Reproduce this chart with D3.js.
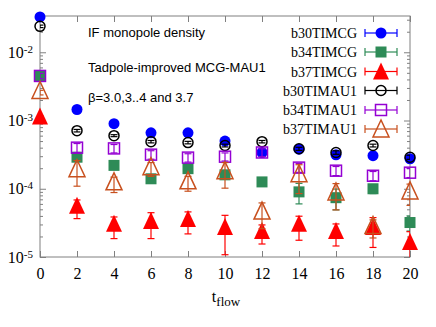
<!DOCTYPE html>
<html>
<head>
<meta charset="utf-8">
<script src="https://cdn.jsdelivr.net/npm/d3@7"></script>
<style>
  body { margin: 0; background: #fff; }
  text { fill: #000; }
</style>
</head>
<body>
<svg id="chart" width="436" height="327"></svg>
<script>
// flow time
const tflow = [0, 2, 4, 6, 8, 10, 12, 14, 16, 18, 20];

// series values
const b30TIMCG = [0.033, 1.45e-3, 9.0e-4, 6.6e-4, 6.6e-4, 5.0e-4, 3.4e-4, 3.8e-4, 3.15e-4, 3.05e-4, 2.75e-4];
const b34TIMCG = [4.5e-3, 2.9e-4, 2.2e-4, 1.4e-4, 1.97e-4, 1.6e-4, 1.26e-4, 9.0e-5, 7.4e-5, 1.0e-4, 3.2e-5];
const b37TIMCG = [1.07e-3, 5.25e-5, 2.86e-5, 3.16e-5, 3.38e-5, 2.58e-5, 2.25e-5, 2.86e-5, 2.25e-5, 2.58e-5, 1.55e-5];
const b30TIMAU1 = [0.024, 7.1e-4, 6.0e-4, 4.9e-4, 4.75e-4, 4.3e-4, 4.9e-4, 3.85e-4, 3.4e-4, 4.3e-4, 2.9e-4];
const b34TIMAU1 = [4.5e-3, 4.0e-4, 3.9e-4, 3.16e-4, 2.86e-4, 2.95e-4, 3.4e-4, 2.04e-4, 1.84e-4, 1.55e-4, 1.72e-4];
const b37TIMAU1 = [2.57e-3, 1.84e-4, 1.18e-4, 1.97e-4, 1.22e-4, 1.72e-4, 4.4e-5, 1.55e-4, 8.4e-5, 2.7e-5, 8.7e-5];

// errors
const errB30TIMCG = [1e-3, 4e-5, 3e-5, 2e-5, 2e-5, 2e-5, 1.5e-5, 1.5e-5, 1.5e-5, 1.5e-5, 1.5e-5];
const errB34TIMCG = [2e-4, 1.5e-5, 1.5e-5, 1.5e-5, 1.5e-5, 1.5e-5, 1e-5, 3e-5, 2.5e-5, 1.5e-5, 8e-6];
const errB37TIMCG = [1e-4, 1.6e-5, 1.0e-5, 1.3e-5, 1.2e-5, 1.5e-5, 7e-6, 1.1e-5, 8e-6, 1.2e-5, 8e-6];
const errB30TIMAU1 = [1e-3, 3e-5, 2e-5, 2e-5, 2e-5, 2e-5, 2e-5, 2e-5, 2e-5, 2e-5, 2e-5];
const errB34TIMAU1 = [4e-4, 6e-5, 5.5e-5, 4.5e-5, 4e-5, 4e-5, 4.5e-5, 3e-5, 2.8e-5, 2.4e-5, 2.6e-5];
const errB37TIMAU1 = [2e-4, 7.5e-5, 3e-5, 4.5e-5, 3e-5, 7e-5, 1.8e-5, 7e-5, 3.5e-5, 8e-6, 3e-5];

const seriesNames = ['b30TIMCG', 'b34TIMCG', 'b37TIMCG', 'b30TIMAU1', 'b34TIMAU1', 'b37TIMAU1'];
const seriesValues = [b30TIMCG, b34TIMCG, b37TIMCG, b30TIMAU1, b34TIMAU1, b37TIMAU1];
const seriesErrors = [errB30TIMCG, errB34TIMCG, errB37TIMCG, errB30TIMAU1, errB34TIMAU1, errB37TIMAU1];
const seriesColors = ['#0000ff', '#2e8b57', '#ff0000', '#000000', '#9400d3', '#c8501e'];
const seriesShapes = ['circleF', 'squareF', 'triF', 'circle', 'square', 'tri'];

const yMajors = [1e-2, 1e-3, 1e-4, 1e-5];

const annotations = ['IF monopole density', 'Tadpole-improved MCG-MAU1', 'β=3.0,3..4 and 3.7'];

const svg = d3.select('#chart');
const plotLeft = 40, plotRight = 410, plotTop = 16, plotBottom = 257;

const x = d3.scaleLinear().domain([0, 20]).range([plotLeft, plotRight]);
const y = d3.scaleLog().domain([1e-5, 0.034]).range([plotBottom, plotTop]);

const axisColor = '#808080';

const yMinors = [];
for (let e = -5; e <= -2; e++) {
  for (let m = 2; m <= 9; m++) {
    const v = m * Math.pow(10, e);
    if (v <= y.domain()[1]) yMinors.push(v);
  }
}

function styleAxis(g) {
  g.select('.domain').remove();
  g.selectAll('.tick line').attr('stroke', axisColor);
  g.selectAll('.tick text')
      .attr('font-family', '"Liberation Serif", "Times New Roman", serif')
      .attr('font-size', '16px')
      .attr('fill', '#000');
}

// x axes (bottom with labels, top mirrored)
svg.append('g')
    .attr('transform', `translate(0,${plotBottom})`)
    .call(d3.axisBottom(x).tickValues(tflow).tickSizeInner(-6).tickSizeOuter(0).tickPadding(11))
    .call(styleAxis);
svg.append('g')
    .attr('transform', `translate(0,${plotTop})`)
    .call(d3.axisTop(x).tickValues(tflow).tickSizeInner(-6).tickSizeOuter(0).tickFormat(''))
    .call(styleAxis);

// y axes
svg.append('g')
    .attr('transform', `translate(${plotLeft},0)`)
    .call(d3.axisLeft(y).tickValues(yMajors).tickSizeInner(-6).tickSizeOuter(0).tickPadding(7))
    .call(styleAxis)
    .call(g => g.selectAll('.tick text').text(null).each(function(d) {
        const t = d3.select(this);
        t.append('tspan').text('10');
        t.append('tspan').attr('dy', '-5').attr('font-size', '11px')
            .text(String(Math.round(Math.log10(d))));
    }));
svg.append('g')
    .attr('transform', `translate(${plotLeft},0)`)
    .call(d3.axisLeft(y).tickValues(yMinors).tickSizeInner(-3).tickSizeOuter(0).tickFormat(''))
    .call(styleAxis);
svg.append('g')
    .attr('transform', `translate(${plotRight},0)`)
    .call(d3.axisRight(y).tickValues(yMajors).tickSizeInner(-6).tickSizeOuter(0).tickFormat(''))
    .call(styleAxis);
svg.append('g')
    .attr('transform', `translate(${plotRight},0)`)
    .call(d3.axisRight(y).tickValues(yMinors).tickSizeInner(-3).tickSizeOuter(0).tickFormat(''))
    .call(styleAxis);

// frame
svg.append('rect')
    .attr('x', plotLeft).attr('y', plotTop)
    .attr('width', plotRight - plotLeft).attr('height', plotBottom - plotTop)
    .attr('fill', 'none').attr('stroke', axisColor).attr('stroke-width', 1);

// x label
const xl = svg.append('text')
    .attr('x', 226).attr('y', 302)
    .attr('text-anchor', 'middle')
    .attr('font-family', '"Liberation Serif", "Times New Roman", serif')
    .attr('font-size', '16px');
xl.append('tspan').text('t');
xl.append('tspan').attr('dy', 4).attr('font-size', '13px').text('flow');

// annotations
svg.append('g').selectAll('text')
    .data(annotations)
    .join('text')
    .attr('x', 88)
    .attr('y', (d, i) => [37, 72, 102][i])
    .attr('font-family', '"Liberation Sans", Arial, sans-serif')
    .attr('font-size', '13px')
    .text(d => d);

svg.append('defs').append('clipPath').attr('id', 'plotClip')
    .append('rect').attr('x', plotLeft).attr('y', plotTop)
    .attr('width', plotRight - plotLeft).attr('height', plotBottom - plotTop);

function drawMarker(g, shape, color, cx, cy) {
  const filled = shape.endsWith('F');
  const base = filled ? shape.slice(0, -1) : shape;
  let m;
  if (base === 'circle') {
    m = g.append('circle').attr('cx', cx).attr('cy', cy).attr('r', filled ? 5.5 : 5);
  } else if (base === 'square') {
    m = g.append('rect').attr('x', cx - 5.5).attr('y', cy - 5.5).attr('width', 11).attr('height', 11);
  } else {
    m = g.append('path').attr('d', `M${cx},${cy - 11}L${cx - 8},${cy + 6}L${cx + 8},${cy + 6}Z`);
  }
  if (filled) {
    m.attr('fill', color).attr('stroke', 'none');
  } else {
    m.attr('fill', 'none').attr('stroke', color).attr('stroke-width', 1.5);
  }
}

// data
seriesNames.forEach((name, s) => {
  const g = svg.append('g').attr('class', name);
  const color = seriesColors[s];
  const vals = seriesValues[s];
  const errs = seriesErrors[s];
  const bars = g.append('g').attr('clip-path', 'url(#plotClip)');
  tflow.forEach((t, i) => {
    const cx = x(t);
    const yHi = y(vals[i] + errs[i]);
    const lo = vals[i] - errs[i];
    const yLo = lo > 0 ? y(lo) : plotBottom + 10;
    bars.append('line').attr('x1', cx).attr('x2', cx).attr('y1', yHi).attr('y2', yLo)
        .attr('stroke', color).attr('stroke-width', 1.2);
    [yHi, yLo].forEach(yy => {
      bars.append('line').attr('x1', cx - 3.5).attr('x2', cx + 3.5).attr('y1', yy).attr('y2', yy)
          .attr('stroke', color).attr('stroke-width', 1.2);
    });
  });
  tflow.forEach((t, i) => drawMarker(g, seriesShapes[s], color, x(t), y(vals[i])));
});

// legend
const legendRows = [33, 52, 71.5, 90.5, 110, 129];
const lg = svg.append('g');
seriesNames.forEach((name, s) => {
  const ly = legendRows[s];
  const color = seriesColors[s];
  lg.append('text')
      .attr('x', 357).attr('y', ly + 5)
      .attr('text-anchor', 'end')
      .attr('font-family', '"Liberation Serif", "Times New Roman", serif')
      .attr('font-size', '14px')
      .text(name);
  lg.append('line').attr('x1', 365).attr('x2', 397).attr('y1', ly).attr('y2', ly)
      .attr('stroke', color).attr('stroke-width', 1.2);
  [365, 397].forEach(xx => {
    lg.append('line').attr('x1', xx).attr('x2', xx).attr('y1', ly - 4).attr('y2', ly + 4)
        .attr('stroke', color).attr('stroke-width', 1.2);
  });
  drawMarker(lg, seriesShapes[s], color, 381, ly + (seriesShapes[s].startsWith('tri') ? 2 : 0));
});
</script>
</body>
</html>
